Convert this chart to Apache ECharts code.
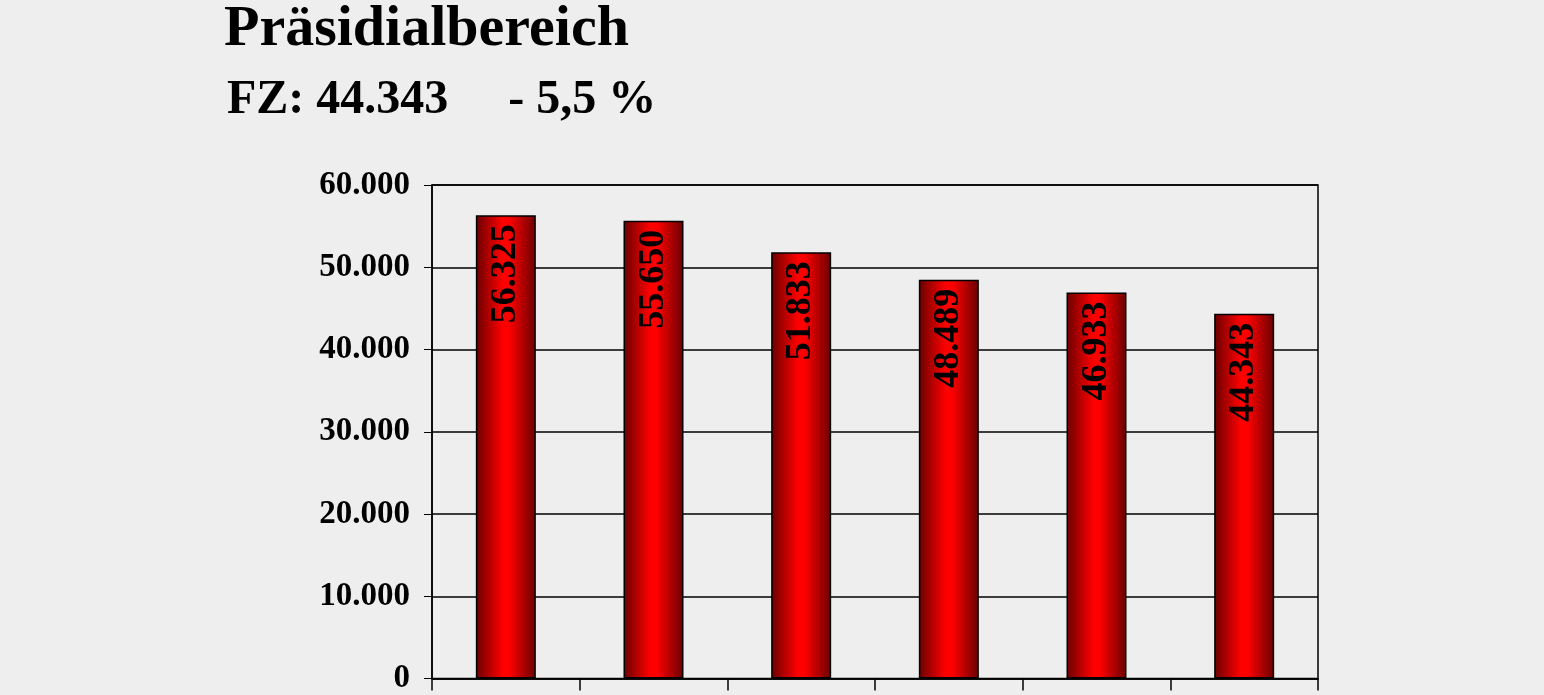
<!DOCTYPE html>
<html>
<head>
<meta charset="utf-8">
<script src="https://cdn.jsdelivr.net/npm/echarts@6/dist/echarts.min.js"></script>
<style>
  html, body { margin: 0; padding: 0; background: #eeeeee; }
  #chart { width: 1544px; height: 695px; }
</style>
</head>
<body>
<div id="chart"></div>
<script>
const categories = ['1', '2', '3', '4', '5', '6'];
const values = [56325, 55650, 51833, 48489, 46933, 44343];
const yTicks = [0, 10000, 20000, 30000, 40000, 50000, 60000];

const fmt = v => String(v).replace(/\B(?=(\d{3})+(?!\d))/g, '.');
const font = '"Liberation Serif", "Times New Roman", serif';

const chart = echarts.init(document.getElementById('chart'));
chart.setOption({
  backgroundColor: '#eeeeee',
  animation: false,
  title: [
    { text: 'Präsidialbereich', left: 219, top: -4,
      textStyle: { fontFamily: font, fontWeight: 'bold', fontSize: 58, color: '#000' } },
    { text: 'FZ: 44.343     - 5,5 %', left: 222, top: 72,
      textStyle: { fontFamily: font, fontWeight: 'bold', fontSize: 48, color: '#000' } }
  ],
  grid: { left: 432, right: 226, top: 185, bottom: 14, show: true,
    borderColor: '#000', borderWidth: 1.5, backgroundColor: 'transparent' },
  xAxis: {
    type: 'category',
    data: categories,
    axisLine: { lineStyle: { color: '#000', width: 1.5 } },
    axisTick: { show: true, length: 12, lineStyle: { color: '#000', width: 1.5 } },
    axisLabel: { show: false },
    splitLine: { show: false }
  },
  yAxis: {
    type: 'value',
    min: 0, max: 60000, interval: 10000,
    axisLine: { show: true, lineStyle: { color: '#000', width: 1.5 } },
    axisTick: { show: true, length: 8, lineStyle: { color: '#000' } },
    axisLabel: {
      formatter: v => yTicks.includes(v) ? fmt(v) : '',
      fontFamily: font, fontWeight: 'bold', fontSize: 33, color: '#000', margin: 22
    },
    splitLine: { show: true, lineStyle: { color: '#000', width: 1.5 } }
  },
  series: [{
    type: 'bar',
    data: values,
    barWidth: 60,
    itemStyle: {
      borderColor: '#000',
      borderWidth: 1.5,
      color: new echarts.graphic.LinearGradient(0, 0, 1, 0, [
        { offset: 0, color: '#6a0000' },
        { offset: 0.45, color: '#ff0000' },
        { offset: 0.55, color: '#ff0000' },
        { offset: 1, color: '#6a0000' }
      ])
    },
    label: {
      show: true,
      position: 'insideTop',
      rotate: 90,
      align: 'right',
      verticalAlign: 'middle',
      distance: 9,
      formatter: p => fmt(p.value),
      fontFamily: font, fontWeight: 'bold', fontSize: 36, color: '#000'
    }
  }]
});
</script>
</body>
</html>
